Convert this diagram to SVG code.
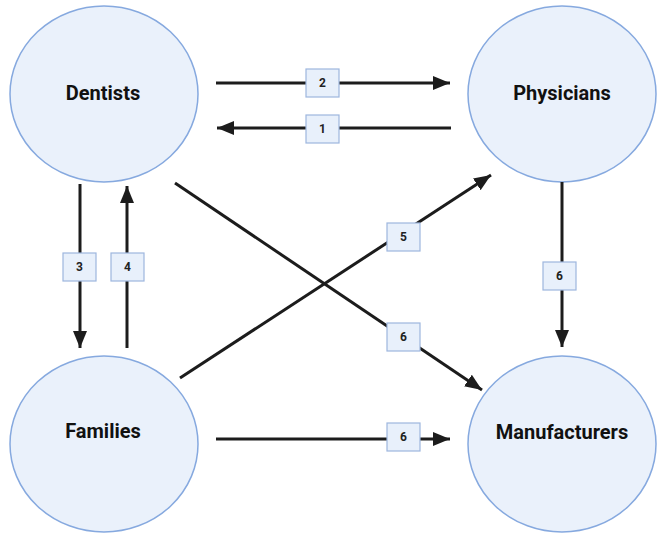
<svg xmlns="http://www.w3.org/2000/svg" width="666" height="541" viewBox="0 0 666 541">
<style>
.node{fill:#eaf1fb;stroke:#86a9df;stroke-width:1.5}
.nt{font-family:Roboto,"Liberation Sans",sans-serif;font-weight:700;font-size:20px;fill:#111;text-anchor:middle;dominant-baseline:central}
.ln{stroke:#1c1c1c;stroke-width:3;fill:none}
.bx{fill:#e8f0fb;stroke:#9db6de;stroke-width:1.2}
.bt{font-family:Roboto,"Liberation Sans",sans-serif;font-weight:700;font-size:12px;fill:#222;text-anchor:middle;dominant-baseline:central}
</style>
<defs>
<marker id="ah" markerUnits="userSpaceOnUse" markerWidth="18" markerHeight="15" refX="17" refY="7" orient="auto">
<path d="M0,0 L17,7 L0,14 z" fill="#1c1c1c"/>
</marker>
</defs>
<rect width="666" height="541" fill="#fff"/>
<g id="dentists"><ellipse class="node" cx="104" cy="94" rx="94" ry="88"/><text class="nt" x="103" y="93">Dentists</text></g>
<g id="physicians"><ellipse class="node" cx="562" cy="94" rx="94" ry="88"/><text class="nt" x="562" y="93">Physicians</text></g>
<g id="families"><ellipse class="node" cx="104" cy="444" rx="94" ry="88"/><text class="nt" x="103" y="431">Families</text></g>
<g id="manufacturers"><ellipse class="node" cx="562" cy="444" rx="94" ry="88"/><text class="nt" x="562" y="432">Manufacturers</text></g>
<g id="connectors">
<line class="ln" x1="216" y1="83" x2="450" y2="83" marker-end="url(#ah)"/>
<line class="ln" x1="451" y1="128" x2="217" y2="128" marker-end="url(#ah)"/>
<line class="ln" x1="80" y1="184" x2="80" y2="348" marker-end="url(#ah)"/>
<line class="ln" x1="127" y1="348" x2="127" y2="186" marker-end="url(#ah)"/>
<line class="ln" x1="562" y1="182" x2="562" y2="347" marker-end="url(#ah)"/>
<line class="ln" x1="175" y1="183" x2="482" y2="390" marker-end="url(#ah)"/>
<line class="ln" x1="180" y1="378" x2="491" y2="175" marker-end="url(#ah)"/>
<line class="ln" x1="216" y1="439" x2="450" y2="439" marker-end="url(#ah)"/>
<rect class="bx" x="306" y="69" width="33" height="28"/><text class="bt" x="322.5" y="83">2</text>
<rect class="bx" x="306" y="115" width="33" height="28"/><text class="bt" x="322.5" y="129">1</text>
<rect class="bx" x="63" y="253" width="33" height="28"/><text class="bt" x="79.5" y="267">3</text>
<rect class="bx" x="111" y="253" width="33" height="28"/><text class="bt" x="127.5" y="267">4</text>
<rect class="bx" x="543" y="262" width="33" height="28"/><text class="bt" x="559.5" y="276">6</text>
<rect class="bx" x="387" y="223" width="33" height="28"/><text class="bt" x="403.5" y="237">5</text>
<rect class="bx" x="387" y="323" width="33" height="28"/><text class="bt" x="403.5" y="337">6</text>
<rect class="bx" x="387" y="423" width="33" height="28"/><text class="bt" x="403.5" y="437">6</text>
</g>
</svg>
